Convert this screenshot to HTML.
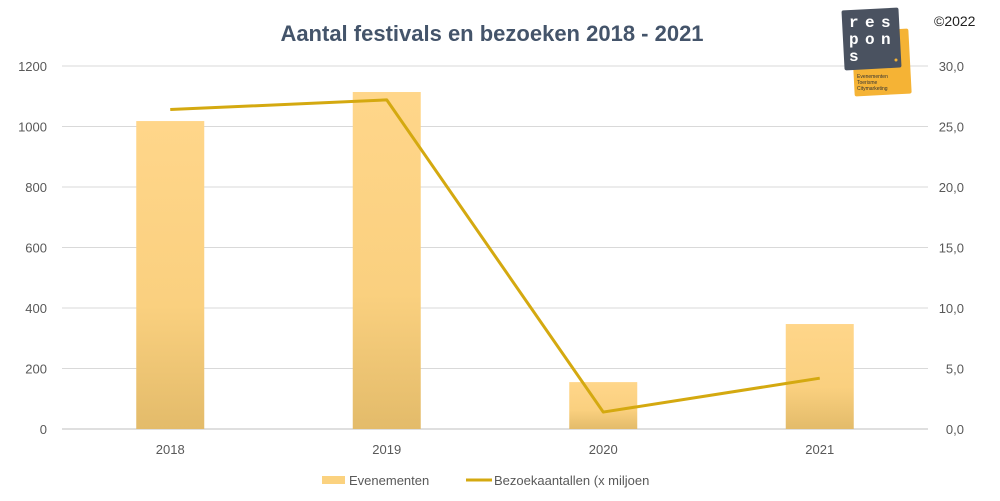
<!DOCTYPE html>
<html><head><meta charset="utf-8"><style>
body{margin:0;background:#fff;font-family:"Liberation Sans",sans-serif}
</style></head><body>
<svg id="c" width="1000" height="501" xmlns="http://www.w3.org/2000/svg" style="display:block">
<defs><linearGradient id="g" x1="0" y1="0" x2="0" y2="1"><stop offset="0" stop-color="#ffd68a"/><stop offset="0.6" stop-color="#fad07f"/><stop offset="1" stop-color="#e3bb6a"/></linearGradient></defs>
<text x="492" y="41" text-anchor="middle" font-size="22" font-weight="bold" fill="#44546a">Aantal festivals en bezoeken 2018 - 2021</text>
<text x="934" y="26" font-size="14" fill="#222">©2022</text>
<g id="grid"></g><g id="bars"></g><g id="line"></g>
<g>
<rect x="853" y="30" width="57" height="65" rx="2" fill="#f5b335" transform="rotate(-3 882 62)"/>
<rect x="843" y="9" width="57" height="60" rx="2" fill="#4a5260" transform="rotate(-3 871 39)"/>
<g font-family="Liberation Mono" font-size="16" font-weight="bold" fill="#fff">
<text x="849" y="27">r</text><text x="865" y="27">e</text><text x="881" y="27">s</text>
<text x="849" y="44">p</text><text x="865" y="44">o</text><text x="881" y="44">n</text>
<text x="849" y="61">s</text>
</g>
<circle cx="896" cy="60" r="1.5" fill="#f5b335"/>
<text x="857" y="78" font-size="5" fill="#333">Evenementen</text>
<text x="857" y="84" font-size="5" fill="#333">Toerisme</text>
<text x="857" y="90" font-size="5" fill="#333">Citymarketing</text>
</g>
<g>
<rect x="322" y="476" width="23" height="8" fill="#fbd27f"/>
<text x="349" y="485" font-size="13" fill="#595959">Evenementen</text>
<line x1="466" y1="480" x2="492" y2="480" stroke="#d4a910" stroke-width="3"/>
<text x="494" y="485" font-size="13" fill="#595959">Bezoekaantallen (x miljoen</text>
</g>
</svg>
<script>
const categories=["2018","2019","2020","2021"];
const events=[1018,1114,155,347];
const visitors=[26.4,27.2,1.4,4.2];
const leftTicks=[0,200,400,600,800,1000,1200];
const rightTicks=["0,0","5,0","10,0","15,0","20,0","25,0","30,0"];
const ns="http://www.w3.org/2000/svg";
const x0=62,x1=928,y0=429,y1=66,bw=216.5;
const yl=v=>y0-(v/1200)*(y0-y1);
const yr=v=>y0-(v/30)*(y0-y1);
const xc=i=>x0+bw*(i+0.5);
function mk(t,a,p){const e=document.createElementNS(ns,t);for(const k in a)e.setAttribute(k,a[k]);p.appendChild(e);return e;}
const grid=document.getElementById('grid');
leftTicks.forEach((v,i)=>{
 const y=yl(v);
 const l=mk('line',{x1:x0,x2:x1,y1:y,y2:y,stroke:i?'#d9d9d9':'#bfbfbf','stroke-width':1},grid);
 
 
 const t=mk('text',{x:47,y:y+5,'text-anchor':'end','font-size':13,fill:'#595959'},grid);t.textContent=v;
 
 
 const r=mk('text',{x:964,y:y+5,'text-anchor':'end','font-size':13,fill:'#595959'},grid);r.textContent=rightTicks[i];
 
 
});
const bars=document.getElementById('bars');
categories.forEach((c,i)=>{
 const b=mk('rect',{x:xc(i)-34,y:yl(events[i]),width:68,height:y0-yl(events[i]),fill:'url(#g)'},bars);
 
 
 const t=mk('text',{x:xc(i),y:454,'text-anchor':'middle','font-size':13,fill:'#595959'},bars);t.textContent=c;
 
 
});
const ln=mk('polyline',{points:visitors.map((v,i)=>xc(i)+','+yr(v)).join(' '),fill:'none',stroke:'#d4a910','stroke-width':3,'stroke-linejoin':'round'},document.getElementById('line'));


</script>
</body></html>
